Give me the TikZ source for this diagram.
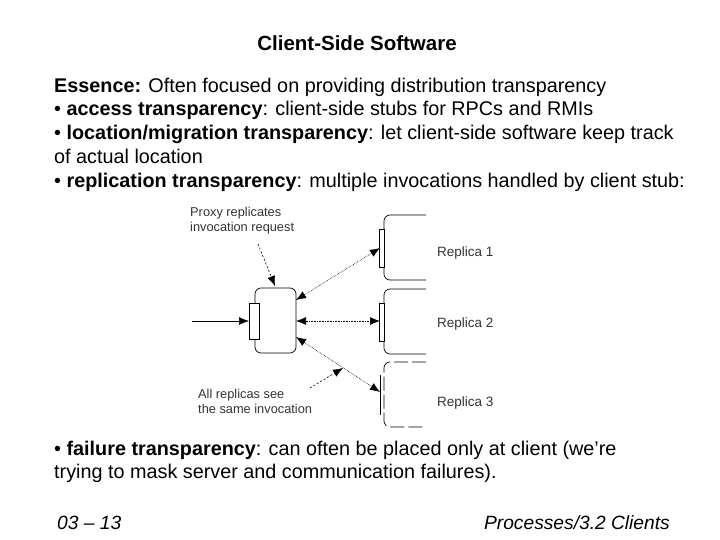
\documentclass[tikz,border=0pt]{standalone}
\usepackage{fontspec}
\setmainfont{Liberation Sans}
\usetikzlibrary{arrows.meta}
\tikzset{>={Latex[length=10pt,width=8pt]},
  txt/.style={anchor=base west,inner sep=0,font=\fontsize{19.8}{23}\selectfont},
  small/.style={anchor=base west,inner sep=0,font=\fontsize{12.8}{15}\selectfont,text=black!80},
  box/.style={draw,rounded corners=6pt,line width=0.7pt},
  arr/.style={<->,line width=0.6pt,densely dotted},
  arro/.style={->,line width=0.6pt},
  dsh/.style={->,line width=0.6pt,dash pattern=on 2pt off 2pt}}
\begin{document}
\begin{tikzpicture}[x=1pt,y=-1pt]
\useasboundingbox (0,0) rectangle (720,540);
\node[anchor=base,inner sep=0,font=\fontsize{20.5}{24}\selectfont\bfseries] (title) at (357,51) {Client-Side Software};
\node[txt] (l1) at (54,93) {\textbf{Essence:} Often focused on providing distribution transparency};
\node[txt] (l2) at (54,116) {• \textbf{access transparency}: client-side stubs for RPCs and RMIs};
\node[txt] (l3) at (54,140) {• \textbf{location/migration transparency}: let client-side software keep track};
\node[txt] (l4) at (54,164) {of actual location};
\node[txt] (l5) at (54,188) {• \textbf{replication transparency}: multiple invocations handled by client stub:};
\node[txt] (l6) at (54,455) {• \textbf{failure transparency}: can often be placed only at client (we’re};
\node[txt] (l7) at (54,478) {trying to mask server and communication failures).};
\node[txt,font=\fontsize{19.2}{23}\selectfont\itshape] (f1) at (57,529) {03 – 13};
\node[txt,anchor=base east,font=\fontsize{19.2}{23}\selectfont\itshape] (f2) at (670,529) {Processes/3.2 Clients};
% proxy
\draw[box] (255,288) rectangle (296,353);
\draw[line width=0.7pt,fill=white] (249,303) rectangle (259,339);
\coordinate (in) at (192,321);
\coordinate (pin) at (249,321);
\draw[arro] (in) -- (pin);
% replicas
\foreach \t in {215,289}{
  \draw[box] (426,\t) -- (384,\t) -- (384,\t+65) -- (426,\t+65);
  \draw[line width=0.7pt,fill=white] (379,\t+14) rectangle (384,\t+52);
}
\draw[box,dash pattern=on 14pt off 4pt] (426,362) -- (384,362) -- (384,427) -- (426,427);
\draw[line width=0.7pt] (380,375) -- (380,415);
\coordinate (r1) at (380,248);
\coordinate (r2) at (380,321);
\coordinate (r3) at (380,392);
\coordinate (p1) at (296,300);
\coordinate (p2) at (296,321);
\coordinate (p3) at (296,337);
\draw[arr] (p1) -- (r1);
\draw[arr] (p2) -- (r2);
\draw[arr] (p3) -- (r3);
\node[small,font=\fontsize{13.5}{16}\selectfont] (rl1) at (437,256) {Replica 1};
\node[small,font=\fontsize{13.5}{16}\selectfont] (rl2) at (437,327) {Replica 2};
\node[small,font=\fontsize{13.5}{16}\selectfont] (rl3) at (437,406) {Replica 3};
\node[small,align=left,anchor=north west] (c1) at (190,207) {Proxy replicates\\invocation request};
\node[small,align=left,anchor=north west] (c2) at (198,389) {All replicas see\\the same invocation};
\coordinate (d1a) at (258,244); \coordinate (d1b) at (275,286);
\coordinate (d2a) at (310,388); \coordinate (d2b) at (343,368);
\draw[dsh] (d1a) -- (d1b);
\draw[dsh] (d2a) -- (d2b);
\end{tikzpicture}
\end{document}
